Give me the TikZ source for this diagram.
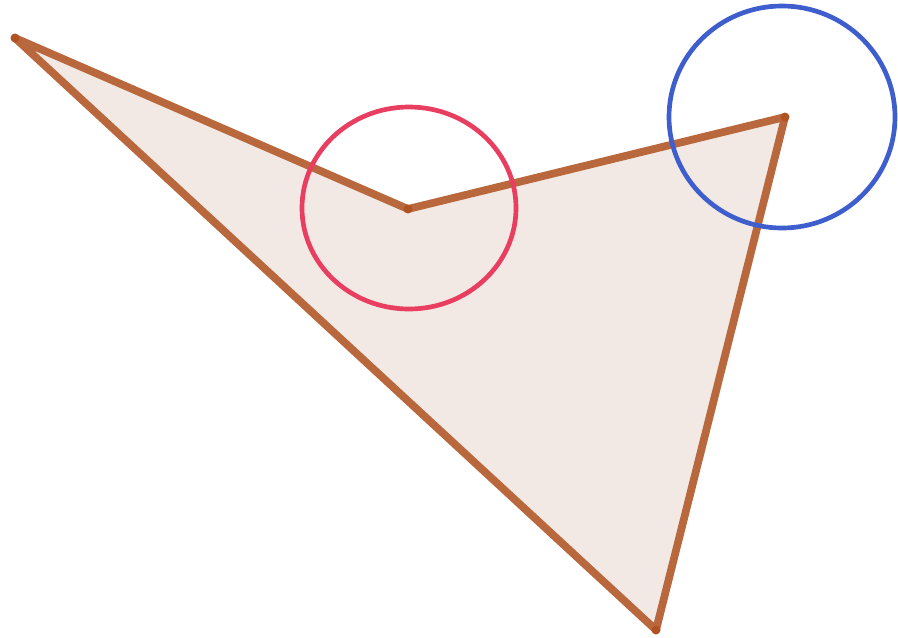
\documentclass[tikz,border=0pt]{standalone}
\definecolor{edgebrown}{RGB}{184,104,60}
\definecolor{fillbrown}{RGB}{243,233,228}
\definecolor{dotbrown}{RGB}{176,82,34}
\definecolor{redc}{RGB}{232,62,96}
\definecolor{bluec}{RGB}{62,94,206}
\tikzset{
  poly/.style={draw=edgebrown, fill=fillbrown, line width=6.6pt, line join=round, line cap=round},
  vdot/.style={fill=dotbrown},
  ring/.style={line width=4pt}
}
\begin{document}
\begin{tikzpicture}[x=0.03cm,y=-0.03cm]
\useasboundingbox (0,0) rectangle (898,637);
\coordinate (A) at (15,38);
\coordinate (B) at (408,209);
\coordinate (C) at (785,117);
\coordinate (D) at (656,630);
\draw[poly] (A) -- (B) -- (C) -- (D) -- cycle;
\foreach \p in {A,B,C,D} \fill[vdot] (\p) circle (4.5);
\draw[ring, draw=redc] (409,208) ellipse (107 and 101);
\draw[ring, draw=bluec] (782,117) ellipse (113 and 111);
\end{tikzpicture}
\end{document}
